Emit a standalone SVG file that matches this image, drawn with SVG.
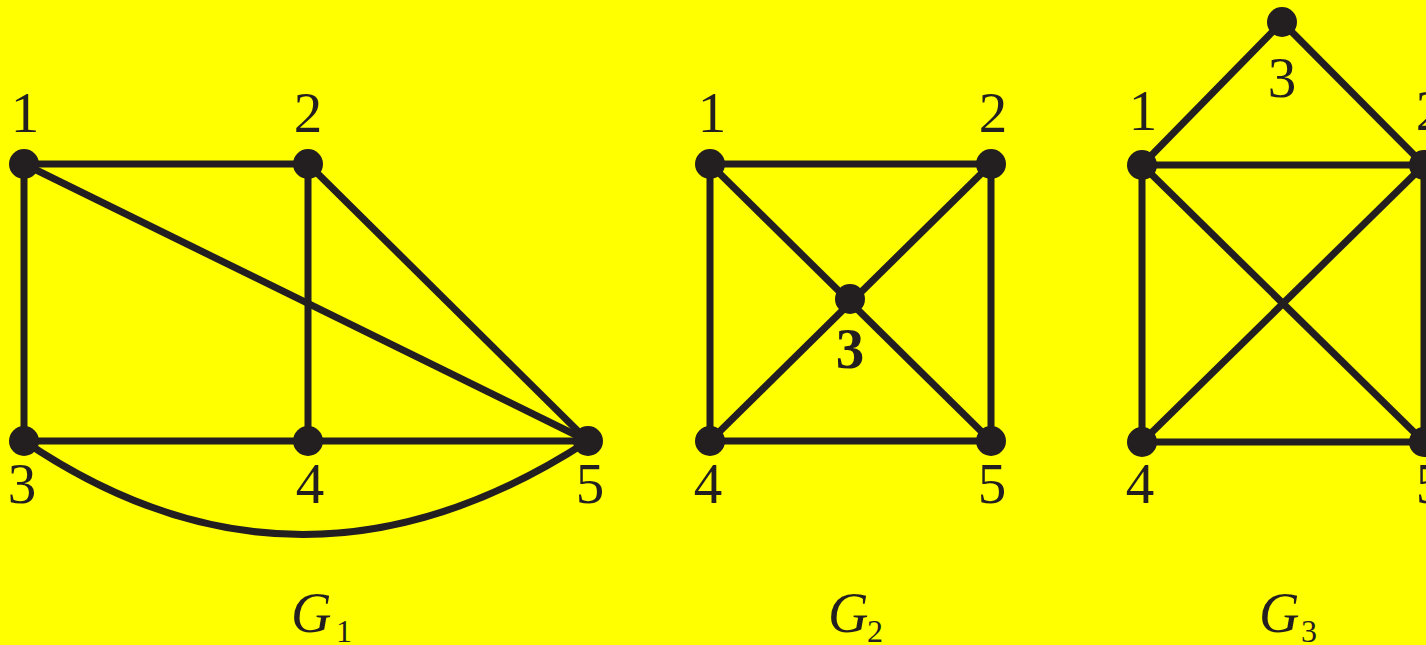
<svg xmlns="http://www.w3.org/2000/svg" width="1426" height="645" viewBox="0 0 1426 645">
<style>
.e{stroke:#231f20;stroke-width:7;fill:none;stroke-linecap:butt}
.n{fill:#231f20}
.l{font-family:"Liberation Serif","Times New Roman",serif;font-size:57px;fill:#231f20;text-anchor:middle}
.b{font-weight:bold}
.g{font-family:"Liberation Serif","Times New Roman",serif;font-style:italic;font-size:56px;fill:#231f20}
.s{font-family:"Liberation Serif","Times New Roman",serif;font-size:32px;fill:#231f20}
</style>
<rect width="1426" height="645" fill="#ffff00"/>
<g id="connectors">
<!-- G1 -->
<line class="e" x1="24" y1="164" x2="308" y2="164"/>
<line class="e" x1="24" y1="164" x2="24" y2="441"/>
<line class="e" x1="308" y1="164" x2="308" y2="441"/>
<line class="e" x1="24" y1="441" x2="588" y2="441"/>
<line class="e" x1="308" y1="164" x2="588" y2="441"/>
<line class="e" x1="24" y1="164" x2="588" y2="441"/>
<path class="e" d="M24,441 Q300,628 588,441"/>
<!-- G2 -->
<line class="e" x1="710" y1="164" x2="991" y2="164"/>
<line class="e" x1="710" y1="164" x2="710" y2="441"/>
<line class="e" x1="991" y1="164" x2="991" y2="441"/>
<line class="e" x1="710" y1="441" x2="991" y2="441"/>
<line class="e" x1="710" y1="164" x2="991" y2="441"/>
<line class="e" x1="991" y1="164" x2="710" y2="441"/>
<!-- G3 -->
<line class="e" x1="1142" y1="165" x2="1282" y2="22"/>
<line class="e" x1="1282" y1="22" x2="1424" y2="165"/>
<line class="e" x1="1142" y1="165" x2="1424" y2="165"/>
<line class="e" x1="1142" y1="165" x2="1142" y2="442"/>
<line class="e" x1="1424" y1="165" x2="1424" y2="442"/>
<line class="e" x1="1142" y1="442" x2="1424" y2="442"/>
<line class="e" x1="1142" y1="165" x2="1424" y2="442"/>
<line class="e" x1="1424" y1="165" x2="1142" y2="442"/>
</g>
<g id="G1">
<g id="g1n1"><circle class="n" cx="24" cy="164" r="15"/><text class="l" x="25" y="132">1</text></g>
<g id="g1n2"><circle class="n" cx="308" cy="164" r="15"/><text class="l" x="308" y="132">2</text></g>
<g id="g1n3"><circle class="n" cx="24" cy="441" r="15"/><text class="l" x="22" y="503">3</text></g>
<g id="g1n4"><circle class="n" cx="308" cy="441" r="15"/><text class="l" x="310" y="503">4</text></g>
<g id="g1n5"><circle class="n" cx="588" cy="441" r="15"/><text class="l" x="590" y="503">5</text></g>
<g id="g1label"><text class="g" x="291" y="632">G</text><text class="s" x="336" y="642">1</text></g>
</g>
<g id="G2">
<g id="g2n1"><circle class="n" cx="710" cy="164" r="15"/><text class="l" x="712" y="132">1</text></g>
<g id="g2n2"><circle class="n" cx="991" cy="164" r="15"/><text class="l" x="993" y="132">2</text></g>
<g id="g2n3"><circle class="n" cx="850" cy="299" r="15"/><text class="l b" x="850" y="368">3</text></g>
<g id="g2n4"><circle class="n" cx="710" cy="441" r="15"/><text class="l" x="708" y="503">4</text></g>
<g id="g2n5"><circle class="n" cx="991" cy="441" r="15"/><text class="l" x="992" y="503">5</text></g>
<g id="g2label"><text class="g" x="828" y="632">G</text><text class="s" x="867" y="642">2</text></g>
</g>
<g id="G3">
<g id="g3n1"><circle class="n" cx="1142" cy="165" r="15"/><text class="l" x="1143" y="130">1</text></g>
<g id="g3n3"><circle class="n" cx="1282" cy="22" r="15"/><text class="l" x="1282" y="97">3</text></g>
<g id="g3n2"><circle class="n" cx="1424" cy="165" r="15"/><text class="l" x="1430" y="130">2</text></g>
<g id="g3n4"><circle class="n" cx="1142" cy="442" r="15"/><text class="l" x="1140" y="503">4</text></g>
<g id="g3n5"><circle class="n" cx="1424" cy="442" r="15"/><text class="l" x="1430" y="503">5</text></g>
<g id="g3label"><text class="g" x="1259" y="632">G</text><text class="s" x="1301" y="642">3</text></g>
</g>
</svg>
